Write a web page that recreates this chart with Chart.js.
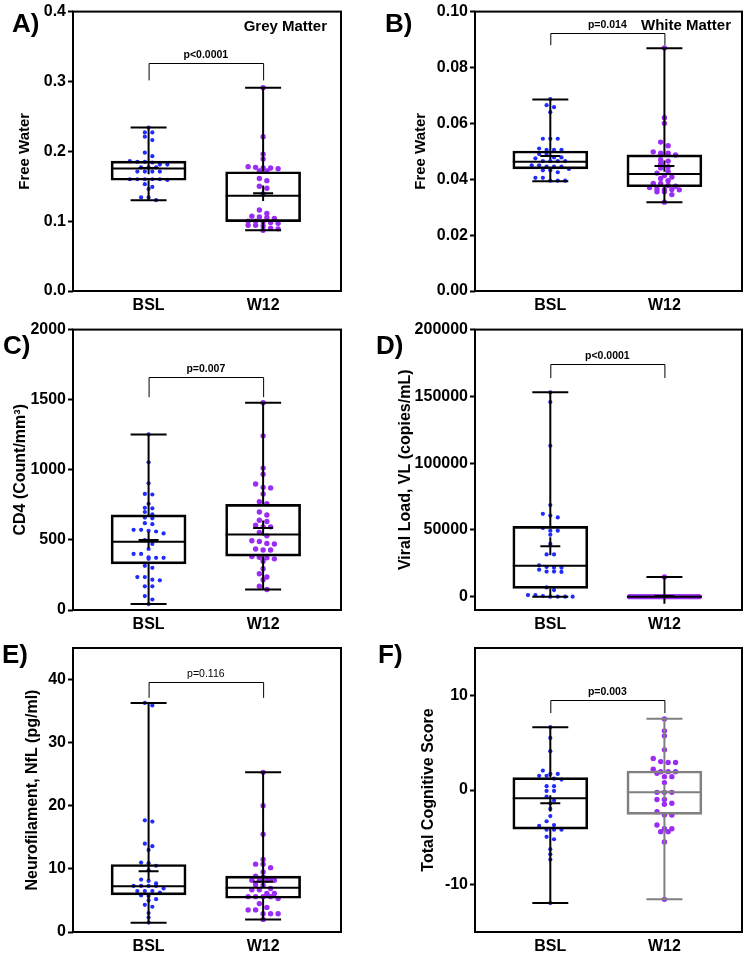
<!DOCTYPE html>
<html>
<head>
<meta charset="utf-8">
<script src="https://cdn.jsdelivr.net/npm/chart.js@4.4.0/dist/chart.umd.min.js"></script>
<style>
    body { margin: 0; background: #fff; }
    #wrap { position: relative; width: 746px; height: 953px; }
    canvas { position: absolute; }
</style>
</head>
<body>
<div id="wrap">
    <canvas id="cA" width="373" height="318" style="left:0;top:0"></canvas>
    <canvas id="cB" width="373" height="318" style="left:373px;top:0"></canvas>
    <canvas id="cC" width="373" height="318" style="left:0;top:318px"></canvas>
    <canvas id="cD" width="373" height="318" style="left:373px;top:318px"></canvas>
    <canvas id="cE" width="373" height="317" style="left:0;top:636px"></canvas>
    <canvas id="cF" width="373" height="317" style="left:373px;top:636px"></canvas>
</div>
<script>
var groups = ['BSL', 'W12'];
var FONT = '"Liberation Sans", Arial, sans-serif';

// box arrays: min, q1, median, q3, max, mean, sem

// A) grey matter free water
var gmBSL = [0.234, 0.227, 0.227, 0.221, 0.216, 0.198, 0.193, 0.185, 0.185, 0.186, 0.184, 0.181, 0.181, 0.177, 0.177, 0.177,
    0.171, 0.171, 0.171, 0.171, 0.160, 0.160, 0.160, 0.160, 0.160, 0.159, 0.153, 0.149, 0.146, 0.134, 0.134, 0.130];
var gmW12 = [0.291, 0.221, 0.196, 0.189, 0.178, 0.177, 0.176, 0.176, 0.175, 0.172, 0.172, 0.161, 0.158, 0.150, 0.147, 0.139,
    0.116, 0.111, 0.107, 0.106, 0.105, 0.104, 0.100, 0.100, 0.099, 0.098, 0.097, 0.094, 0.094, 0.093, 0.090, 0.089, 0.087];
var gmBoxBSL = [0.130, 0.1585, 0.1754, 0.186, 0.234, 0.176, 0.009];
var gmBoxW12 = [0.087, 0.0994, 0.1365, 0.1707, 0.291, 0.140, 0.011];
var gmTicks = [0, 0.1, 0.2, 0.3, 0.4];
var gmTickLabels = ['0.0', '0.1', '0.2', '0.3', '0.4'];
var gmBracket = [0.3264, 0.3015];

// B) white matter free water
var wmBSL = [0.0687, 0.0665, 0.0658, 0.064, 0.0545, 0.0545, 0.0545, 0.051, 0.0505, 0.0505, 0.0505, 0.049, 0.049, 0.0478, 0.0478,
    0.0475, 0.0465, 0.0465, 0.0465, 0.0465, 0.045, 0.045, 0.0445, 0.0445, 0.0445, 0.0437, 0.0432, 0.0432, 0.0425, 0.0405, 0.0405,
    0.0395, 0.0395, 0.0395];
var wmW12 = [0.087, 0.062, 0.060, 0.0533, 0.052, 0.0498, 0.0493, 0.0493, 0.0487, 0.047, 0.0465, 0.0455, 0.0445, 0.044, 0.0428,
    0.0422, 0.0413, 0.0408, 0.0403, 0.0395, 0.0385, 0.0385, 0.0378, 0.0375, 0.037, 0.0366, 0.0363, 0.0363, 0.0362, 0.0355, 0.0355,
    0.0345, 0.0318];
var wmBoxBSL = [0.0393, 0.0437, 0.0463, 0.0501, 0.0685, 0.0483, 0.0012];
var wmBoxW12 = [0.0318, 0.0373, 0.0419, 0.0487, 0.0869, 0.0447, 0.002];
var wmTicks = [0, 0.02, 0.04, 0.06, 0.08, 0.1];
var wmTickLabels = ['0.00', '0.02', '0.04', '0.06', '0.08', '0.10'];
var wmBracket = [0.0925, 0.088];

// C) CD4
var cdBSL = [1252, 1054, 904, 828, 824, 758, 729, 725, 699, 682, 654, 659, 619, 612, 572, 572, 560, 546, 565, 499, 435, 471,
    400, 400, 372, 376, 365, 372, 315, 301, 235, 235, 216, 212, 169, 169, 99, 75, 42];
var cdW12 = [1478, 1242, 1012, 969, 899, 875, 871, 828, 772, 758, 699, 678, 640, 631, 593, 593, 605, 553, 529, 489, 494, 475,
    471, 428, 428, 435, 381, 376, 372, 365, 348, 294, 259, 216, 235, 146, 169];
var cdBoxBSL = [42, 329, 487, 678, 1252, 499, 59];
var cdBoxW12 = [146, 384, 539, 753, 1478, 584, 55];
var cdTicks = [0, 500, 1000, 1500, 2000];
var cdTickLabels = ['0', '500', '1000', '1500', '2000'];
var cdBracket = [1664, 1518];

// D) viral load
var vlBSL = [153000, 145700, 113000, 68600, 62000, 60700, 59300, 51400, 49400, 49400, 46400, 39500, 31600, 31600, 23500, 22200,
    21700, 21700, 20200, 18800, 18800, 18500, 6900, 4900, 1200, 1200, 500, 0, 0, 0, 0];
var vlW12 = [14800, 0, 0, 0, 0, 0, 0, 0, 0, 0, 0, 0, 0, 0, 0, 0, 0, 0, 0, 0, 0, 0, 0, 0, 0, 0, 0, 0, 0, 0, 0];
var vlBoxBSL = [0, 6170, 23210, 52590, 153000, 37780, 6700];
var vlBoxW12 = [-5400, 0, 0, 0, 14800, 500, 400];
var vlTicks = [0, 50000, 100000, 150000, 200000];
var vlTickLabels = ['0', '50000', '100000', '150000', '200000'];
var vlBracket = [174600, 163700];

// E) neurofilament
var nfBSL = [35.9, 36.3, 17.7, 17.5, 14.0, 13.6, 13.0, 11.0, 10.9, 10.5, 9.8, 8.1, 8.3, 7.3, 7.3, 7.3, 7.3, 7.7, 6.5, 6.5, 6.9,
    6.5, 6.25, 5.7, 5.8, 5.2, 5.0, 4.3, 4.0, 3.0, 2.3, 1.5];
var nfW12 = [25.3, 20.0, 15.5, 11.5, 10.75, 10.75, 10.2, 9.5, 8.85, 8.7, 8.2, 8.2, 8.2, 8.2, 8.4, 7.4, 7.5, 6.9, 6.7, 6.7, 6.1,
    6.1, 5.6, 5.3, 5.6, 5.6, 5.6, 4.5, 3.9, 3.5, 3.5, 2.9, 2.9, 2.9, 2.0];
var nfBoxBSL = [1.48, 5.88, 7.26, 10.7, 36.3, 9.64, 1.35];
var nfBoxW12 = [2.0, 5.35, 7.0, 8.85, 25.3, 7.95, 0.8];
var nfTicks = [0, 10, 20, 30, 40];
var nfTickLabels = ['0', '10', '20', '30', '40'];
var nfBracket = [39.6, 37.1];

// F) total cognitive score
var cgBSL = [6.64, 5.5, 4.1, 2.05, 1.5, 1.7, 1.7, 1.5, 1.2, 1.1, 0.4, 0.4, -0.1, -0.1, -0.7, -1.1, -1.4, -2.0, -2.75, -3.3,
    -3.8, -3.7, -4.2, -4.2, -4.2, -4.95, -5.2, -6.25, -6.8, -7.35, -11.94];
var cgW12 = [7.5, 6.25, 5.72, 4.24, 3.32, 3.0, 2.9, 2.9, 2.2, 1.94, 1.94, 1.94, 1.77, 1.41, 1.41, 0.78, -0.25, -0.25, -0.25,
    -1.0, -1.0, -1.4, -1.5, -2.3, -2.65, -2.65, -3.7, -4.1, -4.1, -4.4, -4.4, -5.5, -11.55];
var cgBoxBSL = [-11.94, -4.13, -0.88, 1.31, 6.64, -1.41, 0.85];
var cgBoxW12 = [-11.55, -2.58, -0.25, 2.01, 7.53, -0.18, 0.8];
var cgTicks = [-10, 0, 10];
var cgTickLabels = ['-10', '0', '10'];
var cgBracket = [9.54, 8.13];

var X_MIN = -0.66, X_MAX = 1.68;

// spread points of similar value sideways in rows (dot plot layout)
function swarm(vals, center, pxY, pxX) {
    var order = vals.map(function (v, i) { return i; }).sort(function (a, b) { return vals[b] - vals[a]; });
    var rows = [], cur = null;
    order.forEach(function (i) {
        var p = vals[i] * pxY;
        if (cur && cur.start - p < 4) cur.items.push(i);
        else { cur = { start: p, items: [i] }; rows.push(cur); }
    });
    var pts = [];
    rows.forEach(function (r) {
        var n = r.items.length;
        var step = n > 1 ? Math.min(7.5, 70 / (n - 1)) : 0;
        r.items.forEach(function (i, k) {
            pts.push({ x: center + (k - (n - 1) / 2) * step / pxX, y: vals[i] });
        });
    });
    return pts;
}

function boxPlugin(p) {
    return {
        id: 'boxes',
        afterDatasetsDraw: function (chart) {
            var ctx = chart.ctx, xs = chart.scales.x, ys = chart.scales.y, a = chart.chartArea;
            ctx.save();
            [p.boxBSL, p.boxW12].forEach(function (b, g) {
                var cx = xs.getPixelForValue(g);
                ctx.strokeStyle = p.boxColors[g];
                ctx.lineWidth = 2;
                ctx.beginPath();
                ctx.moveTo(cx, ys.getPixelForValue(b[4])); ctx.lineTo(cx, ys.getPixelForValue(b[3]));
                ctx.moveTo(cx, ys.getPixelForValue(b[1])); ctx.lineTo(cx, ys.getPixelForValue(b[0]));
                ctx.moveTo(cx - 18, ys.getPixelForValue(b[4])); ctx.lineTo(cx + 18, ys.getPixelForValue(b[4]));
                if (!(p.noLowCap && p.noLowCap[g])) {
                    ctx.moveTo(cx - 18, ys.getPixelForValue(b[0])); ctx.lineTo(cx + 18, ys.getPixelForValue(b[0]));
                }
                ctx.moveTo(cx - 37.5, ys.getPixelForValue(b[2])); ctx.lineTo(cx + 37.5, ys.getPixelForValue(b[2]));
                ctx.moveTo(cx - 10, ys.getPixelForValue(b[5])); ctx.lineTo(cx + 10, ys.getPixelForValue(b[5]));
                ctx.moveTo(cx, ys.getPixelForValue(b[5] - b[6])); ctx.lineTo(cx, ys.getPixelForValue(b[5] + b[6]));
                ctx.stroke();
            });
            // significance bracket
            var x0 = xs.getPixelForValue(0), x1 = xs.getPixelForValue(1);
            var yt = Math.round(ys.getPixelForValue(p.bracket[0])) + 0.5, yb = ys.getPixelForValue(p.bracket[1]);
            ctx.strokeStyle = '#000';
            ctx.lineWidth = 1;
            ctx.beginPath();
            ctx.moveTo(x0 + 0.5, yb); ctx.lineTo(x0 + 0.5, yt); ctx.lineTo(x1 + 0.5, yt); ctx.lineTo(x1 + 0.5, yb);
            ctx.stroke();
            ctx.fillStyle = '#000';
            ctx.font = (p.pBold ? 'bold ' : '') + '10.5px ' + FONT;
            ctx.textAlign = 'center';
            ctx.textBaseline = 'bottom';
            ctx.fillText(p.pText, (x0 + x1) / 2, yt - 3);
            // frame
            ctx.lineWidth = 2;
            ctx.strokeRect(a.left, a.top, a.right - a.left, a.bottom - a.top);
            // panel letter and note
            ctx.font = 'bold 26px ' + FONT;
            ctx.textAlign = 'left';
            ctx.textBaseline = 'middle';
            ctx.fillText(p.letter, p.letterX, p.letterY);
            if (p.note) {
                ctx.font = 'bold 15px ' + FONT;
                ctx.textAlign = 'right';
                ctx.fillText(p.note, a.right - p.noteDx, a.top + p.noteDy);
            }
            ctx.restore();
        }
    };
}

function makePanel(id, p) {
    var plotH = p.canvasH - p.top - p.xH;
    var plotW = 373 - p.right - p.axisW;
    var pxY = plotH / (p.yMax - p.yMin);
    var pxX = plotW / (X_MAX - X_MIN);
    new Chart(document.getElementById(id), {
        type: 'scatter',
        data: {
            datasets: [{
                type: 'bar',
                data: [{ x: 0, y: [p.boxBSL[1], p.boxBSL[3]] }, { x: 1, y: [p.boxW12[1], p.boxW12[3]] }],
                barThickness: 75,
                backgroundColor: 'rgba(0,0,0,0)',
                borderColor: p.boxColors,
                borderWidth: 2,
                borderSkipped: false,
                order: 1
            }, {
                data: swarm(p.bsl, 0, pxY, pxX),
                backgroundColor: '#1f2bff',
                borderColor: '#1f2bff',
                pointRadius: 2.1,
                pointBorderWidth: 0,
                order: 2
            }, {
                data: swarm(p.w12, 1, pxY, pxX),
                backgroundColor: '#9a2cf5',
                borderColor: '#9a2cf5',
                pointRadius: 2.7,
                pointBorderWidth: 0,
                order: 2
            }]
        },
        options: {
            responsive: false,
            animation: false,
            layout: { padding: { top: p.top, right: p.right, left: 0, bottom: 0 } },
            plugins: { legend: { display: false }, tooltip: { enabled: false } },
            scales: {
                x: {
                    type: 'linear', min: X_MIN, max: X_MAX, offset: false,
                    grid: { display: false, drawTicks: false }, border: { display: false },
                    afterBuildTicks: function (s) { s.ticks = [{ value: 0 }, { value: 1 }]; },
                    afterFit: function (s) { s.height = p.xH; },
                    ticks: {
                        callback: function (v) { return groups[v]; },
                        font: { family: FONT, size: 16, weight: 'bold' }, color: '#000',
                        padding: 5, maxRotation: 0, autoSkip: false
                    }
                },
                y: {
                    type: 'linear', min: p.yMin, max: p.yMax,
                    afterBuildTicks: function (s) { s.ticks = p.ticks.map(function (v) { return { value: v }; }); },
                    afterFit: function (s) { s.width = p.axisW; },
                    ticks: {
                        callback: function (v) { var i = p.ticks.indexOf(v); return i >= 0 ? p.tickLabels[i] : ''; },
                        font: { family: FONT, size: 16, weight: 'bold' }, color: '#000', padding: 2
                    },
                    grid: { drawOnChartArea: false, tickLength: 5, tickWidth: 2, tickColor: '#000' },
                    border: { display: false },
                    title: {
                        display: true, text: p.title, color: '#000',
                        font: { family: FONT, size: p.titleSize || 16, weight: 'bold' },
                        padding: { top: p.titlePad, bottom: 0 }
                    }
                }
            }
        },
        plugins: [boxPlugin(p)]
    });
}

var leftCol = { right: 32, axisW: 73 };
var rightCol = { right: 2, axisW: 102 };

makePanel('cA', Object.assign({}, leftCol, {
    canvasH: 318, top: 7, xH: 27, yMin: 0, yMax: 0.4, ticks: gmTicks, tickLabels: gmTickLabels,
    bsl: gmBSL, w12: gmW12, boxBSL: gmBoxBSL, boxW12: gmBoxW12, boxColors: ['#000', '#000'],
    bracket: gmBracket, pText: 'p<0.0001', pBold: true, title: 'Free Water', titleSize: 15, titlePad: 16,
    letter: 'A)', letterX: 12, letterY: 25, note: 'Grey Matter', noteDx: 14, noteDy: 15
}));
makePanel('cB', Object.assign({}, rightCol, {
    canvasH: 318, top: 7, xH: 27, yMin: 0, yMax: 0.1, ticks: wmTicks, tickLabels: wmTickLabels,
    bsl: wmBSL, w12: wmW12, boxBSL: wmBoxBSL, boxW12: wmBoxW12, boxColors: ['#000', '#000'],
    bracket: wmBracket, pText: 'p=0.014', pBold: true, title: 'Free Water', titleSize: 15, titlePad: 39,
    letter: 'B)', letterX: 12, letterY: 25, note: 'White Matter', noteDx: 11, noteDy: 14
}));
makePanel('cC', Object.assign({}, leftCol, {
    canvasH: 318, top: 9, xH: 26, yMin: 0, yMax: 2000, ticks: cdTicks, tickLabels: cdTickLabels,
    bsl: cdBSL, w12: cdW12, boxBSL: cdBoxBSL, boxW12: cdBoxW12, boxColors: ['#000', '#000'],
    bracket: cdBracket, pText: 'p=0.007', pBold: true, title: 'CD4 (Count/mm³)', titlePad: 11,
    letter: 'C)', letterX: 3, letterY: 29
}));
makePanel('cD', Object.assign({}, rightCol, {
    canvasH: 318, top: 9, xH: 26, yMin: -10000, yMax: 200000, ticks: vlTicks, tickLabels: vlTickLabels,
    bsl: vlBSL, w12: vlW12, boxBSL: vlBoxBSL, boxW12: vlBoxW12, boxColors: ['#000', '#000'], noLowCap: [false, true],
    bracket: vlBracket, pText: 'p<0.0001', pBold: true, title: 'Viral Load, VL (copies/mL)', titlePad: 23,
    letter: 'D)', letterX: 3, letterY: 29
}));
makePanel('cE', Object.assign({}, leftCol, {
    canvasH: 317, top: 12, xH: 21, yMin: 0, yMax: 45, ticks: nfTicks, tickLabels: nfTickLabels,
    bsl: nfBSL, w12: nfW12, boxBSL: nfBoxBSL, boxW12: nfBoxW12, boxColors: ['#000', '#000'],
    bracket: nfBracket, pText: 'p=0.116', pBold: false, title: 'Neurofilament, NfL (pg/ml)', titlePad: 23,
    letter: 'E)', letterX: 2, letterY: 20
}));
makePanel('cF', Object.assign({}, rightCol, {
    canvasH: 317, top: 12, xH: 21, yMin: -15, yMax: 15, ticks: cgTicks, tickLabels: cgTickLabels,
    bsl: cgBSL, w12: cgW12, boxBSL: cgBoxBSL, boxW12: cgBoxW12, boxColors: ['#000', '#808080'],
    bracket: cgBracket, pText: 'p=0.003', pBold: true, title: 'Total Cognitive Score', titlePad: 46,
    letter: 'F)', letterX: 5, letterY: 20
}));
</script>
</body>
</html>
